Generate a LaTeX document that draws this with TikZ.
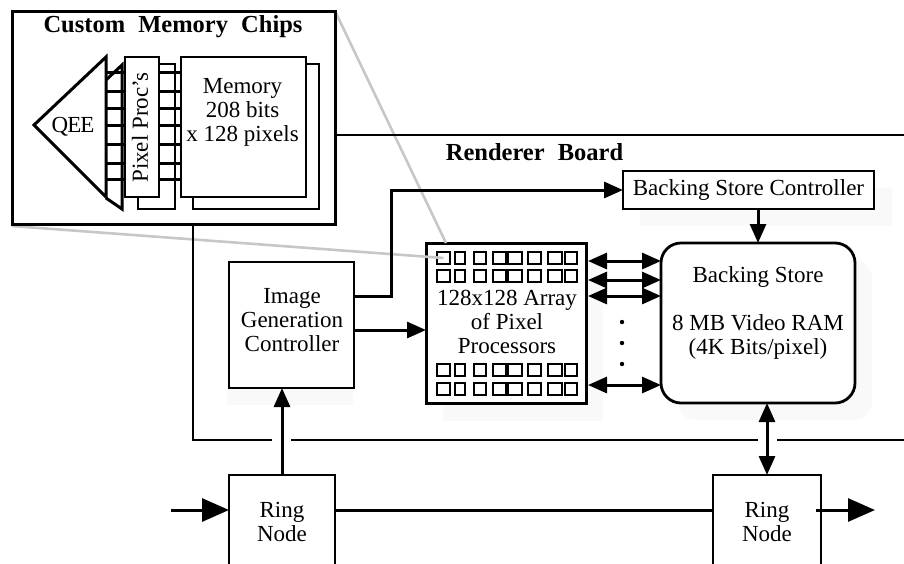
\documentclass[tikz,border=0pt]{standalone}
\usepackage{fontspec}
\setmainfont{Liberation Serif}
\usetikzlibrary{arrows.meta, positioning}

\tikzset{
    blockbox/.style={draw, line width=2.8pt, fill=white, inner sep=0pt, outer sep=0pt, align=center},
    shadowbox/.style={fill=black!2.5, draw=none},
    zoomline/.style={draw=black!22, line width=2.6pt},
    boardline/.style={line width=2.2pt},
    cellbox/.style={draw, line width=2.85pt, fill=white, inner sep=0pt, outer sep=0pt},
    headtext/.style={font=\fontsize{24.5}{24}\selectfont\bfseries},
    wire/.style={line width=3pt, -{Triangle[length=19pt, width=16pt]}},
    twoway/.style={line width=3pt, {Triangle[length=19pt, width=16pt]}-{Triangle[length=19pt, width=16pt]}},
    ringwire/.style={line width=3pt, -{Triangle[length=27pt, width=23pt]}},
    busline/.style={line width=3pt}
}

\begin{document}
\begin{tikzpicture}[x=1pt, y=-1pt, font=\fontsize{23}{24}\selectfont]
    \useasboundingbox (0,0) rectangle (904,563);
    \clip (0,0) rectangle (904,563);

    % soft shadows
    \fill[shadowbox] (227,388) rectangle (353,405);
    \fill[shadowbox] (443,403) rectangle (603,421);
    \fill[shadowbox] (586,260) rectangle (603,403);
    \fill[shadowbox] (640,188) rectangle (892,226);
    \fill[shadowbox, rounded corners=18pt] (678,260) rectangle (872,420);

    % main blocks
    \node[blockbox, minimum width=125pt, minimum height=126pt] (igc) at (291.5,325) {};
    \node[align=center] (igctext) at (292,320) {Image\\Generation\\Controller};
    \node[blockbox, line width=3pt, minimum width=160pt, minimum height=160pt] (array) at (506,323) {};
    \node[blockbox, minimum width=251pt, minimum height=38pt] (bsc) at (748.5,190)
        {Backing Store Controller};
    \node[blockbox, rounded corners=20pt, minimum width=194pt, minimum height=160pt] (store) at (758,323) {};
    \node (storetitle) at (758,277) {Backing Store};
    \node[align=center] (storetext) at (758,337) {8 MB Video RAM\\(4K Bits/pixel)};
    \node[blockbox, minimum width=106pt, minimum height=93pt] (ringa) at (282,521.5) {Ring\\Node};
    \node[blockbox, minimum width=108pt, minimum height=93pt] (ringb) at (767,521.5) {Ring\\Node};

    % processor cells
    \foreach \row/\celly in {a/258, b/276, c/370, d/389} {
        \foreach \col/\cellx/\cellw in {1/443.5/13, 2/460/10, 3/480/12, 4/499.5/13, 5/515/14, 6/534.5/13, 7/555/14, 8/571/12} {
            \node[cellbox, minimum width=\cellw pt, minimum height=12pt] (cell\row\col) at (\cellx,\celly) {};
        }
    }
    \node[align=center] (arraytext) at (507,322) {128x128 Array\\of Pixel\\Processors};

    % zoom lines
    \coordinate (insetright) at (335,11);
    \coordinate (insetleft) at (12,226);
    \coordinate (arraytop) at (446,243);
    \draw[zoomline] (insetright) -- (arraytop);
    \draw[zoomline] (insetleft) -- (cella1.center);

    % board outline
    \coordinate (boardtop) at (335,135);
    \coordinate (boardend) at (904,135);
    \coordinate (boardleft) at (193,224);
    \coordinate (boardcorner) at (193,440);
    \coordinate (gapa) at (272,440);
    \coordinate (gapb) at (291,440);
    \coordinate (gapc) at (758,440);
    \coordinate (gapd) at (777,440);
    \coordinate (boardlow) at (904,440);
    \draw[boardline] (boardtop) -- (boardend);
    \draw[boardline] (boardleft) -- (boardcorner) -- (gapa);
    \draw[boardline] (gapb) -- (gapc);
    \draw[boardline] (gapd) -- (boardlow);
    \node[headtext] (boardlabel) at (534.5,152) {Renderer\hspace{7pt} Board};

    % connectors
    \draw[wire] ([yshift=-5pt]igc.east) -- ([yshift=-5pt]igc.east -| array.west);
    \coordinate (bsturn) at (391,240);
    \draw[line width=3pt] ([yshift=29pt]igc.east) -| (bsturn);
    \draw[wire] (bsturn) |- (bsc.west);
    \draw[wire] (bsc.south -| store.north) -- (store.north);
    \draw[wire] (ringa.north) -- (ringa.north |- igc.south);
    \draw[twoway] (ringb.north) -- (ringb.north |- store.south);
    \foreach \wirey in {261, 280, 296, 385} {
        \draw[twoway] (588,\wirey) -- (store.west |- 0,\wirey);
    }
    \foreach \doty in {322, 343, 364} {
        \fill (622,\doty) circle (2.2pt);
    }

    % ring
    \coordinate (ringin) at (171,510);
    \coordinate (ringout) at (875,510);
    \draw[ringwire] (ringin) -- (ringa.west |- ringin);
    \draw[line width=3pt] (ringa.east |- ringin) -- (ringb.west |- ringin);
    \draw[ringwire] ([xshift=-5pt]ringb.east |- ringout) -- (ringout);

    % custom chip inset
    \node[blockbox, line width=3pt, minimum width=323pt, minimum height=213pt] (inset) at (173.5,117.5) {};
    \node[headtext] (insettitle) at (173,27) {Custom\hspace{7pt} Memory\hspace{7pt} Chips};
    \draw[busline, fill=white] (106,80) -- (122,65) -- (122,209) -- (106,198);
    \node[blockbox, minimum width=37pt, minimum height=145pt] (procback) at (156.5,136.5) {};
    \node[blockbox, minimum width=126pt, minimum height=145pt] (memback) at (256,136.5) {};
    \node[blockbox, minimum width=125pt, minimum height=140pt] (memory) at (243.5,127) {};
    \foreach \busy in {72, 91, 108, 125, 144, 163, 179} {
        \draw[busline] (106,\busy) -- (memory.west |- 0,\busy);
    }
    \draw[busline, line join=miter, fill=white] (106,57) -- (34,125) -- (106,197) -- cycle;
    \foreach \busy in {72, 91, 108, 125, 144, 163, 179} {
        \draw[busline] (106,\busy) -- (124,\busy);
    }
    \node (qee) at (73,127) {\addfontfeature{LetterSpace=-4}QEE};
    \node[blockbox, minimum width=34pt, minimum height=140pt] (proc) at (142,127) {};
    \node[rotate=90] (proclabel) at (140,127.5) {Pixel Proc's};
    \node[align=center] (memtext) at (242.5,112) {Memory\\208 bits\\x 128 pixels};
\end{tikzpicture}
\end{document}
